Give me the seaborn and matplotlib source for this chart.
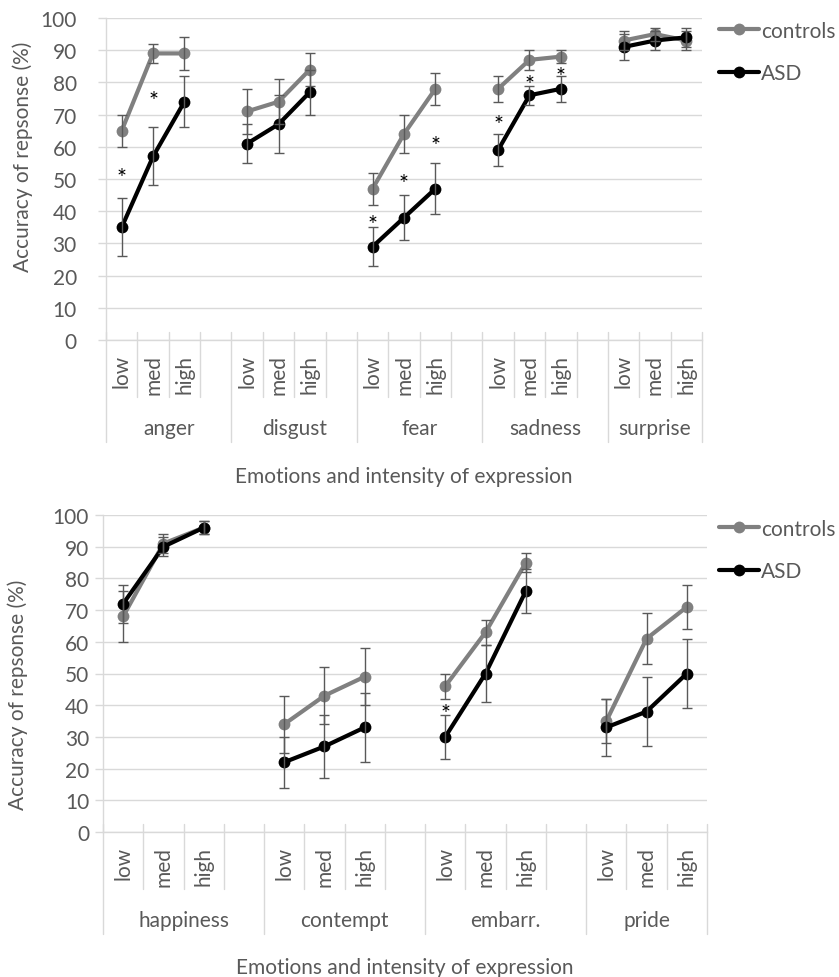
import numpy as np
import pandas as pd
import matplotlib
matplotlib.use('Agg')
import matplotlib.pyplot as plt
import matplotlib.transforms as mtransforms
from matplotlib.lines import Line2D
import seaborn as sns

# ---- data ----
levels = ['low', 'med', 'high']

emotions_top = ['anger', 'disgust', 'fear', 'sadness', 'surprise']
controls_top = [65, 89, 89, 71, 74, 84, 47, 64, 78, 78, 87, 88, 93, 95, 93]
controls_top_err = [5, 3, 5, 7, 7, 5, 5, 6, 5, 4, 3, 2, 3, 2, 3]
asd_top = [35, 57, 74, 61, 67, 77, 29, 38, 47, 59, 76, 78, 91, 93, 94]
asd_top_err = [9, 9, 8, 6, 9, 7, 6, 7, 8, 5, 3, 4, 4, 3, 3]
stars_top = [('anger', 'low', 52.5), ('anger', 'med', 76.5),
             ('fear', 'low', 38), ('fear', 'med', 50.5), ('fear', 'high', 62.5),
             ('sadness', 'low', 69), ('sadness', 'med', 81.5), ('sadness', 'high', 84)]

emotions_bot = ['happiness', 'contempt', 'embarr.', 'pride']
controls_bot = [68, 91, 96, 34, 43, 49, 46, 63, 85, 35, 61, 71]
controls_bot_err = [8, 3, 2, 9, 9, 9, 4, 4, 3, 7, 8, 7]
asd_bot = [72, 90, 96, 22, 27, 33, 30, 50, 76, 33, 38, 50]
asd_bot_err = [6, 3, 2, 8, 10, 11, 7, 9, 7, 9, 11, 11]
stars_bot = [('embarr.', 'low', 39.5)]

groups = ['controls', 'ASD']
palette = {'controls': '#808080', 'ASD': '#000000'}
TXT = '#595959'
GRID = '#d9d9d9'
FS = 15
STAR_FS = 17
FIG_W, FIG_H = 839, 978


def build(emotions, ctrl, ctrl_err, asd, asd_err):
    rows = []
    for gi, emo in enumerate(emotions):
        for li, lev in enumerate(levels):
            k = gi * 3 + li
            pos = gi * 4 + li + 0.5
            rows.append(dict(emotion=emo, level=lev, pos=pos, group='controls',
                             acc=ctrl[k], err=ctrl_err[k]))
            rows.append(dict(emotion=emo, level=lev, pos=pos, group='ASD',
                             acc=asd[k], err=asd_err[k]))
    return pd.DataFrame(rows)


sns.set_theme(style='white')
plt.rcParams['font.family'] = ['Lato', 'DejaVu Sans']

fig = plt.figure(figsize=(FIG_W / 100, FIG_H / 100), dpi=100)
ax1 = fig.add_axes([106 / FIG_W, 1 - 341 / FIG_H, 596 / FIG_W, 322 / FIG_H])
ax2 = fig.add_axes([103 / FIG_W, 1 - 833 / FIG_H, 604 / FIG_W, 317 / FIG_H])


def draw_panel(ax, emotions, df, stars, ypad, ylab_xy, title_off, legend_y):
    n_slots = len(emotions) * 4 - 1
    h = ax.get_position().height * FIG_H

    sns.lineplot(data=df, x='pos', y='acc', hue='group', hue_order=groups,
                 units='emotion', estimator=None, sort=False, palette=palette,
                 marker='o', markersize=8.5, markeredgewidth=0, linewidth=3,
                 legend=False, ax=ax, zorder=3)
    for g in groups:
        d = df[df.group == g]
        ax.errorbar(d.pos, d.acc, yerr=d.err, fmt='none', ecolor=TXT,
                    elinewidth=1, capsize=3.5, capthick=1, zorder=4)

    # significance marks
    star_tr = ax.transData + mtransforms.ScaledTranslation(0, -0.55 * STAR_FS / 72, fig.dpi_scale_trans)
    for emo, lev, y in stars:
        x = emotions.index(emo) * 4 + levels.index(lev) + 0.5
        ax.text(x, y, '*', transform=star_tr, ha='center', va='baseline',
                fontsize=STAR_FS, color='black', zorder=5)

    ax.set_xlim(0, n_slots)
    ax.set_ylim(0, 100)
    ax.set_yticks(range(0, 101, 10))
    ax.yaxis.grid(True, color=GRID, lw=1)
    ax.set_axisbelow(True)
    ax.set_xlabel('')
    ax.set_ylabel('')

    ticks = [gi * 4 + li + 0.5 for gi in range(len(emotions)) for li in range(3)]
    ax.set_xticks(ticks)
    ax.set_xticklabels(levels * len(emotions), rotation=90)
    ax.tick_params(axis='x', length=0, pad=10, labelsize=FS, labelcolor=TXT)
    ax.tick_params(axis='y', left=True, length=6, width=1, color=GRID,
                   pad=ypad, labelsize=FS, labelcolor=TXT)
    for s in ['top', 'right']:
        ax.spines[s].set_visible(False)
    for s in ['left', 'bottom']:
        ax.spines[s].set_color(GRID)
        ax.spines[s].set_linewidth(1)

    # multi-level category axis
    trans = ax.get_xaxis_transform()
    for b in range(n_slots + 1):
        depth = 102 if (b % 4 == 0 or b == n_slots) else 57
        ax.plot([b, b], [8 / h, -depth / h], transform=trans, color=GRID,
                lw=1, clip_on=False, zorder=1)
    for gi, emo in enumerate(emotions):
        width = min(4, n_slots - gi * 4)
        ax.text(gi * 4 + width / 2, -88 / h, emo, transform=trans,
                ha='center', va='center', fontsize=FS, color=TXT)

    ax.text(0.5, -title_off / h, 'Emotions and intensity of expression',
            transform=ax.transAxes, ha='center', va='center', fontsize=FS, color=TXT)
    fig.text(ylab_xy[0] / FIG_W, 1 - ylab_xy[1] / FIG_H, 'Accuracy of repsonse (%)',
             rotation=90, ha='center', va='center', fontsize=FS, color=TXT)

    handles = [Line2D([0], [0], color=palette[g], lw=3, marker='o',
                      markersize=8.5, markeredgewidth=0) for g in groups]
    fig.legend(handles, groups, loc='center left',
               bbox_to_anchor=(719 / FIG_W, 1 - legend_y / FIG_H),
               frameon=False, borderpad=0, borderaxespad=0, handlelength=1.9,
               handletextpad=0.1, labelspacing=1.1, fontsize=FS, labelcolor=TXT)


df_top = build(emotions_top, controls_top, controls_top_err, asd_top, asd_top_err)
df_bot = build(emotions_bot, controls_bot, controls_bot_err, asd_bot, asd_bot_err)

draw_panel(ax1, emotions_top, df_top, stars_top, 15, (23, 157), 136, 53)
draw_panel(ax2, emotions_bot, df_bot, stars_bot, 4, (18, 695), 135, 551)

fig.savefig('out.png', dpi=100)
